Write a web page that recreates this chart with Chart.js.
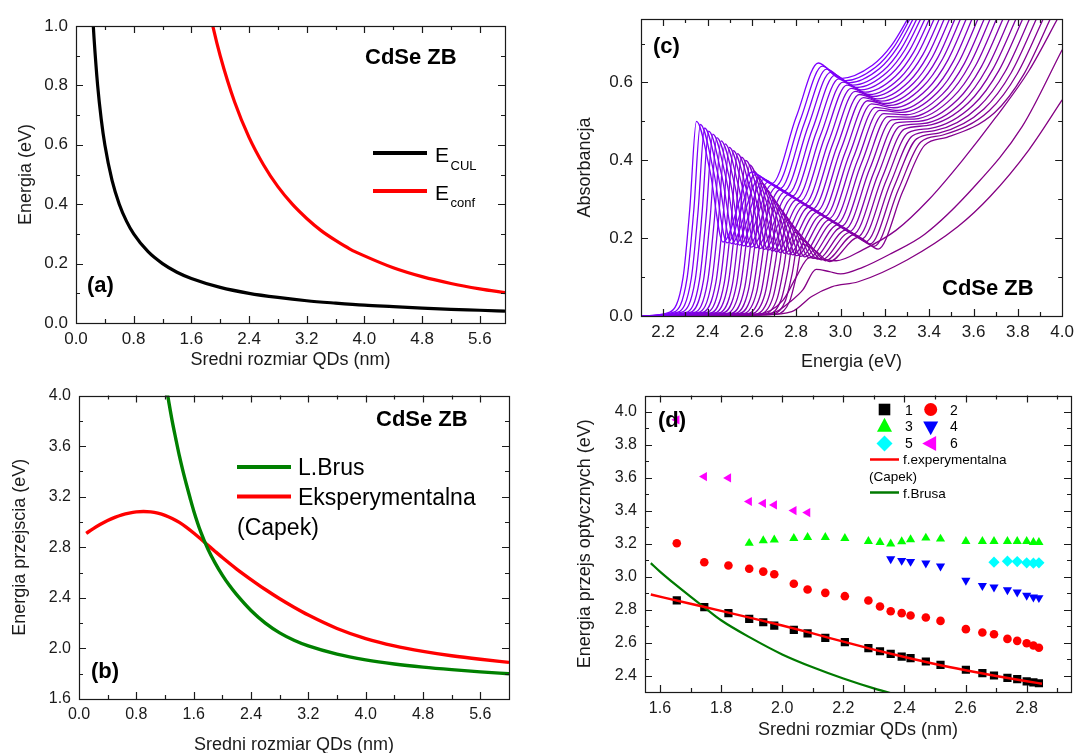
<!DOCTYPE html>
<html>
<head>
<meta charset="utf-8">
<script src="https://cdn.jsdelivr.net/npm/chart.js@4.4.1/dist/chart.umd.min.js"></script>
<style>
  html, body { margin: 0; padding: 0; background: #fff; width: 1080px; height: 753px; overflow: hidden; }
  .panel { position: absolute; }
</style>
</head>
<body>
<div class="panel" style="left:0;top:0;"><canvas id="wykresA" width="540" height="378"></canvas></div>
<div class="panel" style="left:0;top:378px;"><canvas id="wykresB" width="540" height="385"></canvas></div>
<div class="panel" style="left:560px;top:0;"><canvas id="wykresC" width="520" height="378"></canvas></div>
<div class="panel" style="left:560px;top:378px;"><canvas id="wykresD" width="520" height="375"></canvas></div>
<script>
// ---------- (a) energia kulombowska i energia uwiezienia ----------
const rozmiarCUL  = [0.235, 0.25, 0.30, 0.35, 0.40, 0.50, 0.60, 0.70, 0.80, 1.00, 1.20, 1.40, 1.60, 2.00, 2.40, 2.80, 3.20, 3.60, 4.00, 4.40, 4.80, 5.20, 5.60, 5.95];
const energiaCUL  = [1.02, 0.96, 0.80, 0.686, 0.60, 0.48, 0.40, 0.343, 0.30, 0.24, 0.20, 0.171, 0.15, 0.12, 0.10, 0.086, 0.075, 0.067, 0.060, 0.055, 0.050, 0.046, 0.043, 0.040];
const rozmiarConf = [1.88, 1.90, 2.00, 2.20, 2.40, 2.60, 2.80, 3.00, 3.20, 3.40, 3.60, 3.80, 4.00, 4.40, 4.80, 5.20, 5.60, 5.95];
const energiaConf = [1.02, 0.997, 0.90, 0.744, 0.625, 0.533, 0.459, 0.400, 0.352, 0.311, 0.278, 0.249, 0.226, 0.186, 0.156, 0.133, 0.115, 0.102];
const tickiA_x = [0.0, 0.8, 1.6, 2.4, 3.2, 4.0, 4.8, 5.6];
const tickiA_y = [0.0, 0.2, 0.4, 0.6, 0.8, 1.0];

// ---------- (b) energia przejscia: model Brusa i funkcja eksperymentalna ----------
const rozmiarBrus  = [1.22, 1.25, 1.30, 1.35, 1.40, 1.45, 1.50, 1.55, 1.60, 1.70, 1.80, 1.90, 2.00, 2.10, 2.20, 2.40, 2.60, 2.80, 3.00, 3.20, 3.60, 4.00, 4.40, 4.80, 5.20, 5.60, 6.00];
const energiaBrus  = [4.06, 3.96, 3.80, 3.66, 3.525, 3.405, 3.295, 3.19, 3.09, 2.92, 2.785, 2.675, 2.58, 2.497, 2.425, 2.30, 2.20, 2.123, 2.065, 2.02, 1.955, 1.91, 1.877, 1.852, 1.832, 1.815, 1.80];
const rozmiarCapek = [0.10, 0.20, 0.30, 0.40, 0.50, 0.60, 0.70, 0.80, 0.90, 1.00, 1.10, 1.20, 1.30, 1.40, 1.50, 1.60, 1.70, 1.80, 1.90, 2.00, 2.20, 2.40, 2.60, 2.80, 3.00, 3.20, 3.60, 4.00, 4.40, 4.80, 5.20, 5.60, 6.00];
const energiaCapek = [2.910, 2.948, 2.982, 3.012, 3.037, 3.057, 3.071, 3.080, 3.083, 3.080, 3.070, 3.053, 3.028, 2.997, 2.958, 2.913, 2.865, 2.816, 2.767, 2.719, 2.628, 2.545, 2.466, 2.393, 2.326, 2.264, 2.158, 2.078, 2.020, 1.977, 1.942, 1.914, 1.890];
const tickiB_x = [0.0, 0.8, 1.6, 2.4, 3.2, 4.0, 4.8, 5.6];
const tickiB_y = [1.6, 2.0, 2.4, 2.8, 3.2, 3.6, 4.0];

// ---------- (c) widma absorpcji: pary [energia (eV), absorbancja] ----------
const widmo01 = [[2.10,0],[2.230,0.010],[2.290,0.100],[2.320,0.275],[2.350,0.500],[2.410,0.376],[2.470,0.190],[2.600,0.370],[2.690,0.340],[2.800,0.511],[2.900,0.650],[3.000,0.610],[3.144,0.644],[3.230,0.695],[3.320,0.78]];
const widmo02 = [[2.10,0],[2.248,0.010],[2.308,0.098],[2.338,0.271],[2.368,0.492],[2.428,0.370],[2.488,0.188],[2.618,0.364],[2.708,0.334],[2.818,0.503],[2.918,0.642],[3.018,0.604],[3.158,0.639],[3.242,0.692],[3.329,0.78]];
const widmo03 = [[2.10,0],[2.267,0.010],[2.327,0.097],[2.357,0.266],[2.387,0.483],[2.447,0.364],[2.507,0.186],[2.637,0.357],[2.727,0.327],[2.837,0.496],[2.937,0.634],[3.037,0.599],[3.175,0.635],[3.257,0.690],[3.343,0.78]];
const widmo04 = [[2.10,0],[2.285,0.010],[2.345,0.095],[2.375,0.261],[2.405,0.475],[2.465,0.359],[2.525,0.184],[2.655,0.351],[2.745,0.321],[2.855,0.489],[2.955,0.626],[3.055,0.593],[3.192,0.630],[3.274,0.687],[3.359,0.78]];
const widmo05 = [[2.10,0],[2.304,0.009],[2.364,0.093],[2.394,0.257],[2.424,0.467],[2.484,0.353],[2.544,0.182],[2.674,0.344],[2.764,0.314],[2.874,0.481],[2.974,0.618],[3.074,0.587],[3.210,0.626],[3.291,0.684],[3.376,0.78]];
const widmo06 = [[2.10,0],[2.322,0.009],[2.382,0.092],[2.412,0.252],[2.442,0.458],[2.502,0.347],[2.562,0.180],[2.692,0.338],[2.782,0.308],[2.892,0.474],[2.992,0.609],[3.092,0.581],[3.228,0.621],[3.310,0.681],[3.395,0.78]];
const widmo07 = [[2.10,0],[2.341,0.009],[2.401,0.090],[2.431,0.248],[2.461,0.450],[2.521,0.341],[2.581,0.178],[2.711,0.331],[2.801,0.301],[2.911,0.466],[3.011,0.601],[3.111,0.575],[3.248,0.616],[3.330,0.678],[3.415,0.78]];
const widmo08 = [[2.10,0],[2.359,0.009],[2.419,0.088],[2.449,0.243],[2.479,0.442],[2.539,0.336],[2.599,0.177],[2.729,0.325],[2.819,0.295],[2.929,0.459],[3.029,0.593],[3.129,0.569],[3.267,0.611],[3.350,0.675],[3.436,0.78]];
const widmo09 = [[2.10,0],[2.378,0.009],[2.438,0.087],[2.468,0.238],[2.498,0.433],[2.558,0.330],[2.618,0.175],[2.748,0.318],[2.838,0.288],[2.948,0.451],[3.048,0.585],[3.148,0.564],[3.288,0.607],[3.372,0.672],[3.459,0.78]];
const widmo10 = [[2.10,0],[2.396,0.009],[2.456,0.085],[2.486,0.234],[2.516,0.425],[2.576,0.324],[2.636,0.173],[2.766,0.312],[2.856,0.282],[2.966,0.444],[3.066,0.577],[3.166,0.558],[3.308,0.602],[3.393,0.669],[3.481,0.78]];
const widmo11 = [[2.10,0],[2.415,0.008],[2.475,0.083],[2.505,0.229],[2.535,0.417],[2.595,0.319],[2.655,0.171],[2.785,0.305],[2.875,0.275],[2.985,0.437],[3.085,0.569],[3.185,0.552],[3.329,0.598],[3.415,0.666],[3.505,0.78]];
const widmo12 = [[2.10,0],[2.433,0.008],[2.493,0.082],[2.523,0.224],[2.553,0.408],[2.613,0.312],[2.673,0.169],[2.803,0.299],[2.893,0.269],[3.003,0.430],[3.103,0.561],[3.203,0.546],[3.350,0.593],[3.438,0.663],[3.529,0.78]];
const widmo13 = [[2.10,0],[2.452,0.008],[2.512,0.080],[2.542,0.220],[2.572,0.400],[2.632,0.307],[2.692,0.167],[2.822,0.292],[2.912,0.262],[3.022,0.422],[3.122,0.553],[3.222,0.541],[3.371,0.589],[3.461,0.661],[3.554,0.78]];
const widmo14 = [[2.10,0],[2.470,0.008],[2.530,0.078],[2.560,0.213],[2.590,0.388],[2.650,0.299],[2.710,0.165],[2.840,0.286],[2.930,0.256],[3.040,0.415],[3.140,0.545],[3.240,0.535],[3.393,0.584],[3.485,0.658],[3.580,0.78]];
const widmo15 = [[2.10,0],[2.488,0.007],[2.548,0.075],[2.578,0.205],[2.608,0.373],[2.668,0.289],[2.728,0.163],[2.858,0.280],[2.948,0.250],[3.058,0.407],[3.158,0.536],[3.258,0.528],[3.415,0.578],[3.509,0.654],[3.606,0.78]];
const widmo16 = [[2.10,0],[2.507,0.007],[2.567,0.071],[2.597,0.196],[2.627,0.357],[2.687,0.279],[2.747,0.161],[2.877,0.273],[2.967,0.243],[3.077,0.400],[3.177,0.528],[3.277,0.523],[3.437,0.574],[3.533,0.652],[3.633,0.78]];
const widmo17 = [[2.10,0],[2.525,0.007],[2.585,0.068],[2.615,0.188],[2.645,0.341],[2.705,0.268],[2.765,0.159],[2.895,0.267],[2.985,0.237],[3.095,0.393],[3.195,0.520],[3.295,0.517],[3.460,0.570],[3.559,0.649],[3.661,0.78]];
const widmo18 = [[2.10,0],[2.544,0.007],[2.604,0.065],[2.634,0.179],[2.664,0.325],[2.724,0.258],[2.784,0.157],[2.914,0.260],[3.004,0.230],[3.114,0.385],[3.214,0.512],[3.314,0.511],[3.482,0.565],[3.583,0.646],[3.688,0.78]];
const widmo19 = [[2.10,0],[2.562,0.006],[2.622,0.062],[2.652,0.171],[2.682,0.310],[2.742,0.248],[2.802,0.155],[2.932,0.254],[3.022,0.224],[3.132,0.378],[3.232,0.504],[3.332,0.506],[3.505,0.561],[3.609,0.643],[3.717,0.78]];
const widmo20 = [[2.10,0],[2.581,0.006],[2.641,0.059],[2.671,0.162],[2.701,0.294],[2.761,0.238],[2.821,0.153],[2.951,0.247],[3.041,0.217],[3.151,0.370],[3.251,0.496],[3.351,0.500],[3.529,0.556],[3.635,0.640],[3.746,0.78]];
const widmo21 = [[2.10,0],[2.599,0.006],[2.659,0.056],[2.689,0.153],[2.719,0.278],[2.779,0.228],[2.839,0.152],[2.969,0.241],[3.059,0.211],[3.169,0.363],[3.269,0.488],[3.369,0.494],[3.552,0.551],[3.661,0.637],[3.775,0.78]];
const widmo22 = [[2.10,0],[2.618,0.005],[2.678,0.052],[2.708,0.144],[2.738,0.262],[2.798,0.217],[2.858,0.150],[2.988,0.234],[3.078,0.204],[3.188,0.356],[3.288,0.480],[3.388,0.489],[3.576,0.547],[3.688,0.635],[3.805,0.78]];
const widmo23 = [[2.10,0],[2.636,0.005],[2.696,0.049],[2.726,0.136],[2.756,0.247],[2.816,0.207],[2.876,0.148],[3.006,0.228],[3.096,0.198],[3.206,0.348],[3.306,0.471],[3.406,0.482],[3.599,0.542],[3.715,0.631],[3.835,0.78]];
const widmo24 = [[2.10,0],[2.655,0.005],[2.715,0.046],[2.745,0.127],[2.775,0.231],[2.835,0.197],[2.895,0.146],[3.025,0.221],[3.115,0.191],[3.225,0.341],[3.325,0.463],[3.425,0.476],[3.623,0.537],[3.743,0.628],[3.866,0.78]];
const widmo25 = [[2.10,0],[2.673,0.004],[2.733,0.043],[2.763,0.118],[2.793,0.215],[2.853,0.187],[2.913,0.144],[3.043,0.215],[3.133,0.185],[3.243,0.334],[3.343,0.455],[3.443,0.470],[3.647,0.532],[3.770,0.625],[3.897,0.78]];
const widmo26 = [[2.10,0],[2.692,0.004],[2.752,0.040],[2.782,0.109],[2.812,0.199],[2.872,0.176],[2.932,0.142],[3.062,0.209],[3.152,0.179],[3.262,0.326],[3.362,0.447],[3.462,0.465],[3.672,0.528],[3.798,0.623],[3.928,0.78]];
const widmo27 = [[2.10,0],[2.710,0.004],[2.770,0.037],[2.800,0.101],[2.830,0.184],[2.890,0.166],[2.950,0.140],[3.080,0.202],[3.170,0.172],[3.280,0.319],[3.380,0.439],[3.480,0.459],[3.696,0.523],[3.826,0.620],[3.960,0.78]];
const widmo28 = [[2.10,0],[2.620,0.004],[2.740,0.040],[2.800,0.100],[2.860,0.150],[2.920,0.146],[2.980,0.142],[3.100,0.170],[3.250,0.220],[3.400,0.300],[3.550,0.400],[3.700,0.510],[3.850,0.630],[3.990,0.775]];
const widmo29 = [[2.10,0],[2.620,0.003],[2.710,0.011],[2.780,0.040],[2.830,0.067],[2.890,0.120],[2.950,0.114],[3.000,0.108],[3.100,0.125],[3.230,0.161],[3.380,0.210],[3.600,0.330],[3.820,0.487],[4.000,0.684]];
const widmo30 = [[2.10,0],[2.650,0.003],[2.780,0.011],[2.870,0.050],[2.960,0.075],[3.080,0.088],[3.300,0.144],[3.530,0.230],[3.675,0.307],[3.850,0.427],[4.000,0.555]];
const widma = [widmo01, widmo02, widmo03, widmo04, widmo05, widmo06, widmo07, widmo08, widmo09, widmo10,
               widmo11, widmo12, widmo13, widmo14, widmo15, widmo16, widmo17, widmo18, widmo19, widmo20,
               widmo21, widmo22, widmo23, widmo24, widmo25, widmo26, widmo27, widmo28, widmo29, widmo30];
const tickiC_x = [2.2, 2.4, 2.6, 2.8, 3.0, 3.2, 3.4, 3.6, 3.8, 4.0];
const tickiC_y = [0.0, 0.2, 0.4, 0.6];

// ---------- (d) energie przejsc optycznych ----------
const rozmiarQD   = [1.655, 1.745, 1.824, 1.892, 1.938, 1.974, 2.038, 2.083, 2.141, 2.205, 2.282, 2.320, 2.355, 2.391, 2.420, 2.470, 2.518, 2.601, 2.655, 2.693, 2.737, 2.769, 2.800, 2.822, 2.840];
const przejscie1  = [2.855, 2.814, 2.778, 2.743, 2.723, 2.703, 2.677, 2.656, 2.628, 2.602, 2.566, 2.547, 2.531, 2.515, 2.505, 2.485, 2.465, 2.435, 2.414, 2.400, 2.386, 2.378, 2.365, 2.358, 2.353];
const przejscie2  = [3.202, 3.087, 3.067, 3.047, 3.030, 3.014, 2.956, 2.921, 2.901, 2.881, 2.855, 2.818, 2.790, 2.778, 2.764, 2.752, 2.731, 2.681, 2.661, 2.650, 2.622, 2.610, 2.596, 2.582, 2.568];
const przejscie3  = [null, null, null, 3.202, 3.218, 3.222, 3.232, 3.238, 3.238, 3.232, 3.214, 3.208, 3.198, 3.212, 3.224, 3.234, 3.228, 3.214, 3.214, 3.214, 3.214, 3.214, 3.214, 3.208, 3.208];
const przejscie4  = [null, null, null, null, null, null, null, null, null, null, null, null, 3.107, 3.097, 3.091, 3.081, 3.063, 2.976, 2.945, 2.935, 2.919, 2.905, 2.885, 2.875, 2.871];
const przejscie5  = [null, null, null, null, null, null, null, null, null, null, null, null, null, null, null, null, null, null, null, 3.087, 3.093, 3.091, 3.083, 3.081, 3.083];
const przejscie6  = [3.950, 3.606, 3.598, 3.455, 3.444, 3.434, 3.400, 3.388, null, null, null, null, null, null, null, null, null, null, null, null, null, null, null, null, null];
const rozmiarFitCapek = [1.57, 1.70, 1.80, 1.90, 2.00, 2.10, 2.20, 2.30, 2.40, 2.50, 2.60, 2.70, 2.80, 2.85];
const energiaFitCapek = [2.891, 2.835, 2.792, 2.748, 2.703, 2.655, 2.605, 2.557, 2.512, 2.470, 2.432, 2.397, 2.365, 2.350];
const rozmiarFitBrus  = [1.57, 1.60, 1.65, 1.70, 1.75, 1.80, 1.90, 2.00, 2.10, 2.20, 2.30, 2.40];
const energiaFitBrus  = [3.081, 3.030, 2.952, 2.878, 2.806, 2.735, 2.625, 2.528, 2.450, 2.382, 2.322, 2.270];
const tickiD_x = [1.6, 1.8, 2.0, 2.2, 2.4, 2.6, 2.8];
const tickiD_y = [2.4, 2.6, 2.8, 3.0, 3.2, 3.4, 3.6, 3.8, 4.0];

// ---------- wspolne ustawienia ----------
const FONT = '"Liberation Sans", Arial, Helvetica, sans-serif';
const CZARNY = '#1a1a1a';
Chart.defaults.font.family = FONT;
Chart.defaults.color = CZARNY;
Chart.defaults.animation = false;

function pary(xs, ys) {
  return xs.map((x, i) => ({ x: x, y: ys[i] }));
}

// gladka krzywa bez znacznikow
function krzywa(dane, kolor, grubosc) {
  return { data: dane, borderColor: kolor, borderWidth: grubosc, pointRadius: 0,
           fill: false, cubicInterpolationMode: 'monotone' };
}

// os liczbowa o stalej szerokosci/wysokosci, z wlasna lista ticków
function os(min, max, ticki, tytul, rozmiar, poziom, cfg) {
  return {
    type: 'linear', min: min, max: max, bounds: 'data',
    grid: { display: false, drawTicks: false },
    border: { display: false },
    afterBuildTicks: s => { s.ticks = ticki.map(v => ({ value: v })); },
    afterFit: s => { if (poziom) s.height = rozmiar; else s.width = rozmiar; },
    ticks: { autoSkip: false, maxRotation: 0, padding: cfg.pad, color: CZARNY,
             font: { size: cfg.tick }, callback: v => Number(v).toFixed(1) },
    title: { display: true, text: tytul, color: CZARNY, font: { size: cfg.title }, padding: cfg.titlePad }
  };
}

// ramka wykresu z kreskami podzialki skierowanymi do srodka (na wszystkich bokach)
function ramka(xMinor, yMinor) {
  const duza = 7, mala = 4;
  return {
    id: 'ramka',
    afterDatasetsDraw(chart) {
      const { ctx, chartArea: a } = chart;
      const sx = chart.scales.x, sy = chart.scales.y;
      ctx.save();
      ctx.strokeStyle = CZARNY;
      ctx.lineWidth = 1.2;
      ctx.beginPath();
      const pion = (v, len) => {
        const p = Math.round(sx.getPixelForValue(v)) + 0.5;
        if (p < a.left + 1 || p > a.right - 1) return;
        ctx.moveTo(p, a.bottom); ctx.lineTo(p, a.bottom - len);
        ctx.moveTo(p, a.top); ctx.lineTo(p, a.top + len);
      };
      const poz = (v, len) => {
        const p = Math.round(sy.getPixelForValue(v)) + 0.5;
        if (p < a.top + 1 || p > a.bottom - 1) return;
        ctx.moveTo(a.left, p); ctx.lineTo(a.left + len, p);
        ctx.moveTo(a.right, p); ctx.lineTo(a.right - len, p);
      };
      sx.ticks.forEach(t => pion(t.value, duza));
      xMinor.forEach(v => pion(v, mala));
      sy.ticks.forEach(t => poz(t.value, duza));
      yMinor.forEach(v => poz(v, mala));
      ctx.stroke();
      ctx.strokeRect(Math.round(a.left) + 0.5, Math.round(a.top) + 0.5,
                     Math.round(a.right - a.left), Math.round(a.bottom - a.top));
      ctx.restore();
    }
  };
}

function napis(ctx, t, x, y, size, bold, kolor) {
  ctx.font = (bold ? 'bold ' : '') + size + 'px ' + FONT;
  ctx.textAlign = 'left';
  ctx.textBaseline = 'alphabetic';
  ctx.fillStyle = kolor || '#000';
  ctx.fillText(t, x, y);
}

function odcinek(ctx, x1, x2, y, kolor, w) {
  ctx.save();
  ctx.strokeStyle = kolor; ctx.lineWidth = w; ctx.lineCap = 'butt';
  ctx.beginPath(); ctx.moveTo(x1, y); ctx.lineTo(x2, y); ctx.stroke();
  ctx.restore();
}

function znacznik(ctx, styl, x, y, r, kolor, obrot) {
  ctx.save();
  ctx.fillStyle = kolor;
  ctx.translate(x, y);
  ctx.rotate((obrot || 0) * Math.PI / 180);
  ctx.beginPath();
  if (styl === 'rect') { ctx.rect(-r, -r, 2 * r, 2 * r); }
  else if (styl === 'circle') { ctx.arc(0, 0, r, 0, Math.PI * 2); }
  else if (styl === 'triangle') {
    ctx.moveTo(0, -r * 1.1); ctx.lineTo(r, r * 0.75); ctx.lineTo(-r, r * 0.75); ctx.closePath();
  } else if (styl === 'rectRot') {
    ctx.moveTo(0, -r); ctx.lineTo(r, 0); ctx.lineTo(0, r); ctx.lineTo(-r, 0); ctx.closePath();
  }
  ctx.fill();
  ctx.restore();
}

const bazaOpcji = (pad) => ({
  responsive: false, animation: false, events: [],
  layout: { padding: pad },
  plugins: { legend: { display: false }, tooltip: { enabled: false } }
});

// ---------- wykres (a) ----------
new Chart(document.getElementById('wykresA'), {
  type: 'line',
  data: { datasets: [
    krzywa(pary(rozmiarCUL, energiaCUL), '#000000', 3.2),
    krzywa(pary(rozmiarConf, energiaConf), '#ff0000', 3.2)
  ]},
  options: Object.assign(bazaOpcji({ left: 0, right: 35, top: 26, bottom: 0 }), {
    scales: {
      x: os(0, 5.95, tickiA_x, 'Sredni rozmiar QDs (nm)', 55, true,
            { pad: 6, tick: 17, title: 18, titlePad: { top: 0, bottom: 7 } }),
      y: os(0, 1.0, tickiA_y, 'Energia (eV)', 76, false,
            { pad: 8, tick: 17, title: 18, titlePad: { top: 15, bottom: 0 } })
    }
  }),
  plugins: [ramka([0.4, 1.2, 2.0, 2.8, 3.6, 4.4, 5.2], [0.1, 0.3, 0.5, 0.7, 0.9]), {
    id: 'opisA',
    afterDraw(chart) {
      const ctx = chart.ctx;
      napis(ctx, 'CdSe ZB', 365, 64, 22, true);
      napis(ctx, '(a)', 87, 292, 22, true);
      odcinek(ctx, 373, 427, 153, '#000000', 4);
      odcinek(ctx, 373, 427, 191, '#ff0000', 4);
      napis(ctx, 'E', 435, 162, 21, false);
      napis(ctx, 'CUL', 450.5, 170, 13, false);
      napis(ctx, 'E', 435, 200, 21, false);
      napis(ctx, 'conf', 450.5, 207, 13, false);
    }
  }]
});

// ---------- wykres (b) ----------
new Chart(document.getElementById('wykresB'), {
  type: 'line',
  data: { datasets: [
    krzywa(pary(rozmiarBrus, energiaBrus), '#008000', 3.4),
    krzywa(pary(rozmiarCapek, energiaCapek), '#ff0000', 3.4)
  ]},
  options: Object.assign(bazaOpcji({ left: 0, right: 31, top: 16, bottom: 0 }), {
    scales: {
      x: os(0, 6.0, tickiB_x, 'Sredni rozmiar QDs (nm)', 64, true,
            { pad: 6, tick: 16, title: 18, titlePad: { top: 0, bottom: 7 } }),
      y: os(1.6, 4.0, tickiB_y, 'Energia przejscia (eV)', 79, false,
            { pad: 8, tick: 16, title: 18, titlePad: { top: 9, bottom: 0 } })
    }
  }),
  plugins: [ramka([0.4, 1.2, 2.0, 2.8, 3.6, 4.4, 5.2], [1.8, 2.2, 2.6, 3.0, 3.4, 3.8]), {
    id: 'opisB',
    afterDraw(chart) {
      const ctx = chart.ctx;
      napis(ctx, 'CdSe ZB', 376, 48, 22, true);
      napis(ctx, '(b)', 91, 300, 22, true);
      odcinek(ctx, 237, 291, 89, '#008000', 4);
      odcinek(ctx, 237, 291, 118.5, '#ff0000', 4);
      napis(ctx, 'L.Brus', 298, 96.5, 23, false);
      napis(ctx, 'Eksperymentalna', 298, 126.5, 23, false);
      napis(ctx, '(Capek)', 237, 157, 23, false);
    }
  }]
});

// ---------- wykres (c) ----------
new Chart(document.getElementById('wykresC'), {
  type: 'line',
  data: { datasets: widma.map((w, i) => {
    const f = i / (widma.length - 1);
    const kolor = 'rgb(' + Math.round(125 + 8 * f) + ',0,' + Math.round(255 - 125 * f) + ')';
    return krzywa(w.map(p => ({ x: p[0], y: p[1] })), kolor, 1.3);
  })},
  options: Object.assign(bazaOpcji({ left: 0, right: 13, top: 19, bottom: 0 }), {
    scales: {
      x: os(2.1, 4.0, tickiC_x, 'Energia (eV)', 62, true,
            { pad: 6, tick: 17, title: 18, titlePad: { top: 0, bottom: 5 } }),
      y: os(0, 0.763, tickiC_y, 'Absorbancja', 81, false,
            { pad: 8, tick: 17, title: 18, titlePad: { top: 14, bottom: 0 } })
    }
  }),
  plugins: [ramka([2.3, 2.5, 2.7, 2.9, 3.1, 3.3, 3.5, 3.7, 3.9], [0.1, 0.3, 0.5, 0.7]), {
    id: 'opisC',
    afterDraw(chart) {
      const ctx = chart.ctx;
      napis(ctx, '(c)', 93, 53, 22, true);
      napis(ctx, 'CdSe ZB', 382, 295, 22, true);
    }
  }]
});

// ---------- wykres (d) ----------
const serieD = [
  { y: przejscie1, kolor: '#000000', styl: 'rect', r: 5.8, obrot: 0 },
  { y: przejscie2, kolor: '#ff0000', styl: 'circle', r: 4.3, obrot: 0 },
  { y: przejscie3, kolor: '#00ff00', styl: 'triangle', r: 5.3, obrot: 0 },
  { y: przejscie4, kolor: '#0000ff', styl: 'triangle', r: 5.3, obrot: 180 },
  { y: przejscie5, kolor: '#00ffff', styl: 'rectRot', r: 5.6, obrot: 0 },
  { y: przejscie6, kolor: '#ff00ff', styl: 'triangle', r: 5.3, obrot: 270 }
];
const liniaCapek = krzywa(pary(rozmiarFitCapek, energiaFitCapek), '#ff0000', 2.4);
const liniaBrus = krzywa(pary(rozmiarFitBrus, energiaFitBrus), '#007a00', 2.2);
liniaCapek.order = 1;
liniaBrus.order = 1;
new Chart(document.getElementById('wykresD'), {
  type: 'line',
  data: { datasets: [liniaCapek, liniaBrus].concat(serieD.map(s => ({
    data: rozmiarQD.map((x, i) => ({ x: x, y: s.y[i] })).filter(p => p.y !== null),
    showLine: false, pointStyle: s.styl, pointRadius: s.r, pointRotation: s.obrot,
    pointBackgroundColor: s.kolor, pointBorderColor: s.kolor, pointBorderWidth: 0,
    backgroundColor: s.kolor, borderColor: s.kolor, order: 2
  })))},
  options: Object.assign(bazaOpcji({ left: 0, right: 9, top: 17, bottom: 0 }), {
    scales: {
      x: os(1.551, 2.945, tickiD_x, 'Sredni rozmiar QDs (nm)', 61, true,
            { pad: 7, tick: 16, title: 18, titlePad: { top: 0, bottom: 12 } }),
      y: os(2.30, 4.097, tickiD_y, 'Energia przejs optycznych (eV)', 85, false,
            { pad: 8, tick: 16, title: 18, titlePad: { top: 14, bottom: 0 } })
    }
  }),
  plugins: [ramka([1.7, 1.9, 2.1, 2.3, 2.5, 2.7, 2.9], [2.5, 2.7, 2.9, 3.1, 3.3, 3.5, 3.7, 3.9]), {
    id: 'opisD',
    afterDraw(chart) {
      const ctx = chart.ctx;
      napis(ctx, '(d)', 98, 49, 22, true);
      // legenda: symbole w dwoch kolumnach
      znacznik(ctx, 'rect', 324.5, 31.5, 5.8, '#000000', 0);
      znacznik(ctx, 'circle', 370.7, 31.5, 6.5, '#ff0000', 0);
      znacznik(ctx, 'triangle', 324.5, 48, 7.5, '#00ff00', 0);
      znacznik(ctx, 'triangle', 370.7, 49, 7.5, '#0000ff', 180);
      znacznik(ctx, 'rectRot', 324.5, 65.5, 8, '#00ffff', 0);
      znacznik(ctx, 'triangle', 370.5, 65.5, 7.5, '#ff00ff', 270);
      napis(ctx, '1', 345, 37, 14, false);
      napis(ctx, '2', 390, 37, 14, false);
      napis(ctx, '3', 345, 53, 14, false);
      napis(ctx, '4', 390, 53, 14, false);
      napis(ctx, '5', 345, 70, 14, false);
      napis(ctx, '6', 390, 70, 14, false);
      odcinek(ctx, 310, 339, 81.5, '#ff0000', 2.5);
      napis(ctx, 'f.experymentalna', 343, 86, 13.5, false);
      napis(ctx, '(Capek)', 309, 103, 13.5, false);
      odcinek(ctx, 310, 339, 114.5, '#007a00', 2.5);
      napis(ctx, 'f.Brusa', 343, 120, 13.5, false);
    }
  }]
});
</script>
</body>
</html>
